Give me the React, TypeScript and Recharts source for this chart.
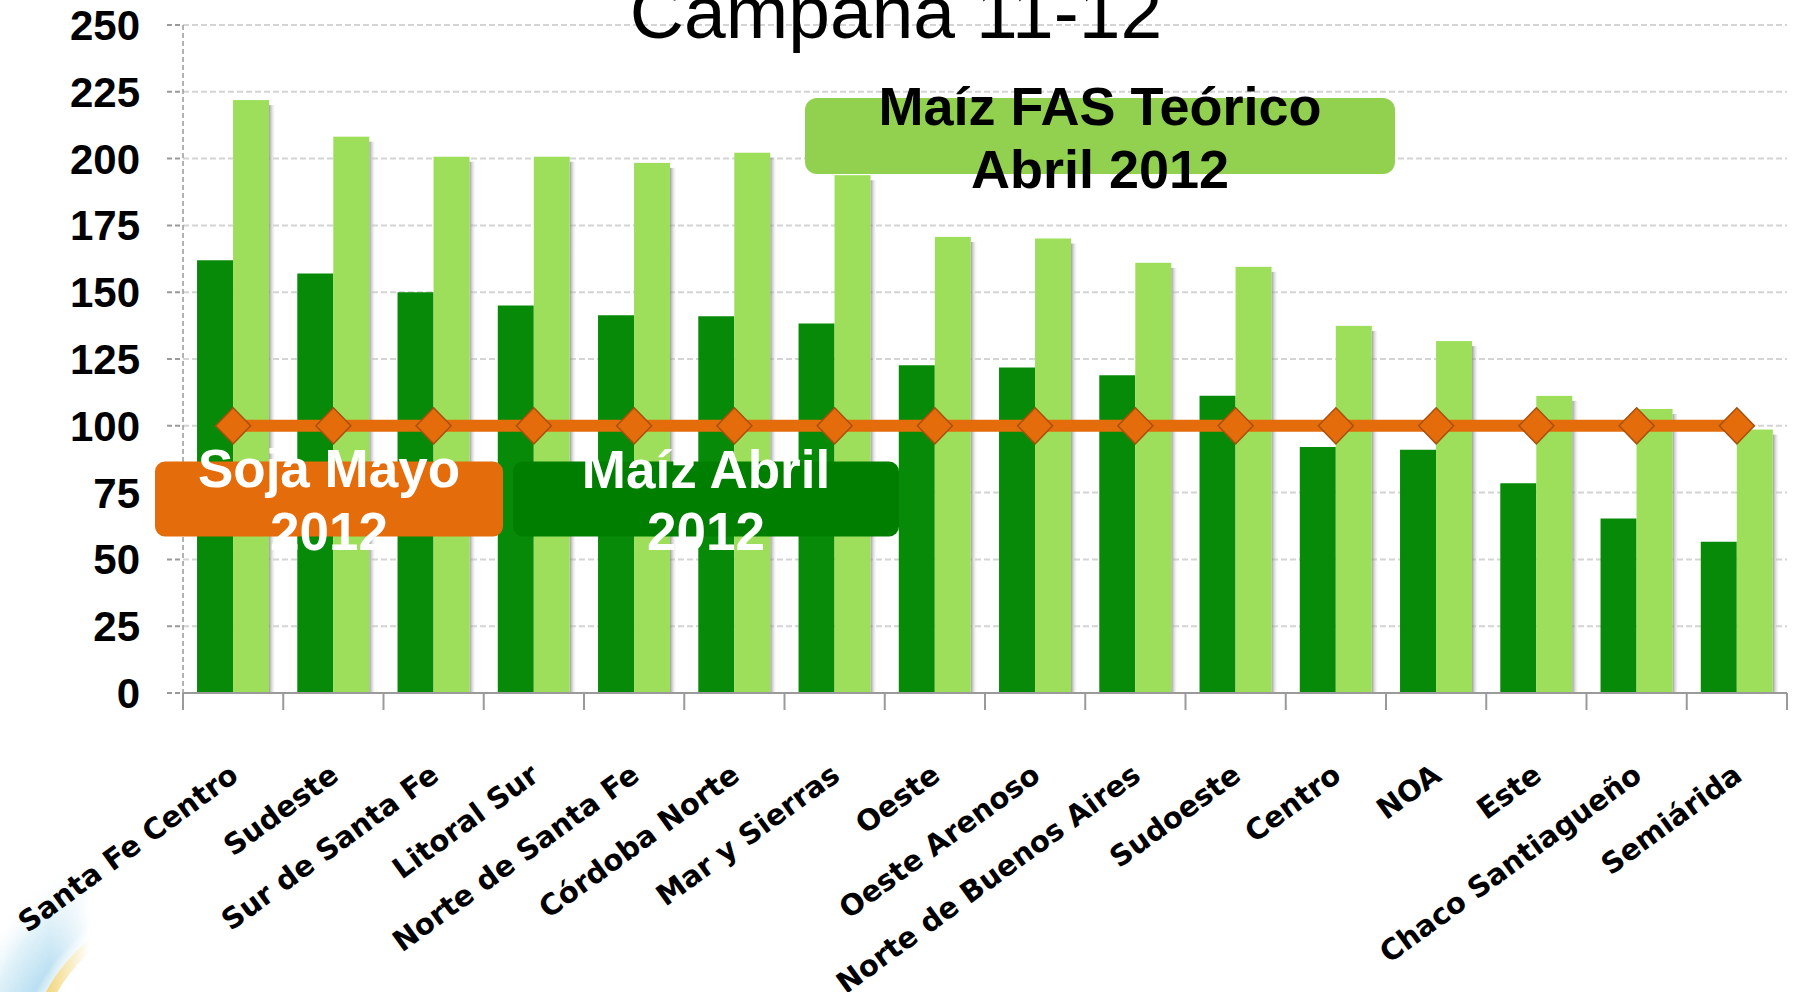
import React from "react";
import { ComposedChart, Bar, Line, XAxis, YAxis, CartesianGrid } from "recharts";

const TITLE = "Campaña 11-12";

const REGIONS = [
  "Santa Fe Centro",
  "Sudeste",
  "Sur de Santa Fe",
  "Litoral Sur",
  "Norte de Santa Fe",
  "Córdoba Norte",
  "Mar y Sierras",
  "Oeste",
  "Oeste Arenoso",
  "Norte de Buenos Aires",
  "Sudoeste",
  "Centro",
  "NOA",
  "Este",
  "Chaco Santiagueño",
  "Semiárida",
];

// Maíz Abril 2012 (dark green)
const MAIZ_ABRIL = [162, 157, 150, 145, 141.4, 141, 138.3, 122.7, 121.8, 118.9, 111.2, 92.1, 91, 78.5, 65.3, 56.6];
// Maíz FAS Teórico Abril 2012 (light green)
const MAIZ_FAS = [221.9, 208.2, 200.7, 200.7, 198.4, 202.2, 193.8, 170.7, 170.1, 161, 159.5, 137.4, 131.7, 111.2, 106.3, 98.6];
// Soja Mayo 2012 (orange line)
const SOJA_MAYO = [100, 100, 100, 100, 100, 100, 100, 100, 100, 100, 100, 100, 100, 100, 100, 100];

const Y_TICKS = [0, 25, 50, 75, 100, 125, 150, 175, 200, 225, 250];

const LABEL_SOJA = ["Soja Mayo", "2012"];
const LABEL_MAIZ_ABRIL = ["Maíz Abril", "2012"];
const LABEL_FAS = ["Maíz FAS Teórico", "Abril 2012"];

const COLORS = {
  dark: "#078A07",
  light: "#9DDF5A",
  orange: "#E46C0A",
  orangeEdge: "#A8500C",
  fasBox: "#92D050",
  abrilBox: "#007E00",
  grid: "#d4d4d4",
  axis: "#9a9a9a",
};

const data = REGIONS.map((region, i) => ({
  region,
  maizAbril: MAIZ_ABRIL[i],
  maizFas: MAIZ_FAS[i],
  soja: SOJA_MAYO[i],
}));

const W = 1797;
const H = 992;
const BOLD = "'Liberation Sans', Arial, sans-serif";

function ShadowBar(props: any) {
  const { x, y, width, height, fill } = props;
  if (!height || height <= 0) return null;
  return (
    <g>
      <rect x={x + width} y={y + 5} width={7} height={height - 5} fill="url(#barShadow)" />
      <rect x={x} y={y} width={width} height={height} fill={fill} />
    </g>
  );
}

function Diamond(props: any) {
  const { cx, cy, index } = props;
  if (cx == null || cy == null) return <g key={index} />;
  const hw = 17.5;
  const hh = 18;
  return (
    <polygon
      key={index}
      points={`${cx},${cy - hh} ${cx + hw},${cy} ${cx},${cy + hh} ${cx - hw},${cy}`}
      fill={COLORS.orange}
      stroke={COLORS.orangeEdge}
      strokeWidth={1.5}
    />
  );
}

function RegionTick(props: any) {
  const { x, y, payload, index, visibleTicksCount } = props;
  const half = payload && typeof payload.offset === "number" && payload.offset > 0 ? payload.offset : 50;
  const isLast = index === visibleTicksCount - 1;
  const tx = x + 7;
  const ty = y + 86;
  return (
    <g>
      <line x1={x - half} y1={y} x2={x - half} y2={y + 17} stroke={COLORS.axis} strokeWidth={2} />
      {isLast && <line x1={x + half} y1={y} x2={x + half} y2={y + 17} stroke={COLORS.axis} strokeWidth={2} />}
      <text
        x={tx}
        y={ty}
        textAnchor="end"
        transform={`rotate(-36, ${tx}, ${ty})`}
        fontFamily="'DejaVu Sans', sans-serif"
        fontWeight="bold"
        fontSize={29}
        fill="#000"
      >
        {payload.value}
      </text>
    </g>
  );
}

function BoxLabel({ x, y, w, h, fill, color, cx, lines, base1, base2, r, size }: any) {
  return (
    <g>
      <rect x={x} y={y} width={w} height={h} rx={r} ry={r} fill={fill} />
      <text x={cx} y={base1} textAnchor="middle" fontFamily={BOLD} fontWeight="bold" fontSize={size} fill={color}>
        {lines[0]}
      </text>
      <text x={cx} y={base2} textAnchor="middle" fontFamily={BOLD} fontWeight="bold" fontSize={size} fill={color}>
        {lines[1]}
      </text>
    </g>
  );
}

export default function App() {
  return (
    <div style={{ position: "fixed", left: 0, top: 0, width: W, height: H, background: "#fff", overflow: "hidden" }}>
      <svg width={W} height={H} style={{ position: "absolute", left: 0, top: 0 }}>
        <defs>
          <linearGradient id="logoFade" x1="0" y1="0" x2="1" y2="0">
            <stop offset="0%" stopColor="#fff" stopOpacity={1} />
            <stop offset="55%" stopColor="#fff" stopOpacity={0.8} />
            <stop offset="100%" stopColor="#fff" stopOpacity={0} />
          </linearGradient>
          <mask id="logoMask" maskUnits="userSpaceOnUse" x={0} y={840} width={110} height={152}>
            <rect x={0} y={840} width={90} height={152} fill="url(#logoFade)" />
          </mask>
          <radialGradient id="logoRing" cx="0.5" cy="0.5" r="0.5">
            <stop offset="62%" stopColor="#ffffff" stopOpacity={0} />
            <stop offset="74%" stopColor="#9fd3ec" stopOpacity={0.85} />
            <stop offset="88%" stopColor="#d2ebf6" stopOpacity={0.7} />
            <stop offset="100%" stopColor="#ffffff" stopOpacity={0} />
          </radialGradient>
        </defs>
        <g mask="url(#logoMask)">
          <circle cx={200} cy={1075} r={250} fill="url(#logoRing)" />
          <circle cx={200} cy={1075} r={170} fill="none" stroke="#f2c94c" strokeWidth={10} opacity={0.85} />
        </g>
      </svg>

      <ComposedChart
        width={W}
        height={H}
        data={data}
        margin={{ top: 25, right: 10, bottom: 9, left: 0 }}
        barCategoryGap="14%"
        barGap={0}
        style={{ position: "absolute", left: 0, top: 0 }}
      >
        <CartesianGrid vertical={false} stroke={COLORS.grid} strokeWidth={2} strokeDasharray="6 3" />
        <XAxis
          dataKey="region"
          interval={0}
          height={290}
          tickSize={0}
          tickMargin={0}
          tickLine={false}
          axisLine={{ stroke: COLORS.axis, strokeWidth: 2 }}
          tick={<RegionTick />}
        />
        <YAxis
          type="number"
          domain={[0, 250]}
          ticks={Y_TICKS}
          interval={0}
          width={183}
          tickSize={16}
          tickMargin={27}
          axisLine={{ stroke: COLORS.axis, strokeWidth: 1.5, strokeDasharray: "5 3" }}
          tickLine={{ stroke: COLORS.axis, strokeWidth: 2, strokeDasharray: "5 3" }}
          tick={{ fill: "#000", fontSize: 42, fontWeight: "bold", fontFamily: BOLD }}
        />
        <Bar dataKey="maizAbril" name="Maíz Abril 2012" fill={COLORS.dark} isAnimationActive={false} />
        <Bar
          dataKey="maizFas"
          name="Maíz FAS Teórico Abril 2012"
          fill={COLORS.light}
          shape={<ShadowBar />}
          isAnimationActive={false}
        />
        <Line
          dataKey="soja"
          name="Soja Mayo 2012"
          stroke={COLORS.orange}
          strokeWidth={12}
          dot={(p: any) => <Diamond key={p.index} {...p} />}
          activeDot={false}
          isAnimationActive={false}
        />
      </ComposedChart>

      <svg width={W} height={H} style={{ position: "absolute", left: 0, top: 0, pointerEvents: "none" }}>
        <defs>
          <linearGradient id="barShadow" x1="0" y1="0" x2="1" y2="0">
            <stop offset="0%" stopColor="#7a7a7a" stopOpacity={0.75} />
            <stop offset="100%" stopColor="#ffffff" stopOpacity={0} />
          </linearGradient>
        </defs>

        <text x={896} y={38} textAnchor="middle" fontFamily="'Liberation Sans', Arial, sans-serif" fontSize={75} fill="#000">
          {TITLE}
        </text>

        <BoxLabel
          x={805}
          y={98}
          w={590}
          h={76}
          r={12}
          size={54}
          fill={COLORS.fasBox}
          color="#000"
          cx={1100}
          lines={LABEL_FAS}
          base1={125}
          base2={188}
        />
        <BoxLabel
          x={155}
          y={461.5}
          w={348}
          h={75}
          r={10}
          size={53}
          fill={COLORS.orange}
          color="#fff"
          cx={329}
          lines={LABEL_SOJA}
          base1={487}
          base2={550}
        />
        <BoxLabel
          x={513}
          y={461.5}
          w={386}
          h={75}
          r={10}
          size={53}
          fill={COLORS.abrilBox}
          color="#fff"
          cx={706}
          lines={LABEL_MAIZ_ABRIL}
          base1={488}
          base2={550}
        />
      </svg>
    </div>
  );
}
